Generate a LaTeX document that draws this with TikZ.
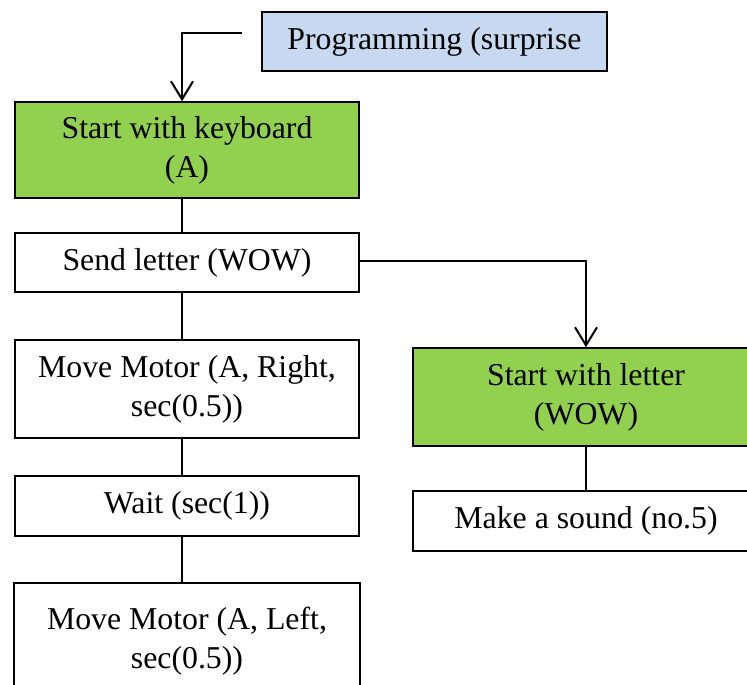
\documentclass[tikz,border=0pt]{standalone}
\usepackage{fontspec}
\setmainfont{Liberation Serif}
\usetikzlibrary{positioning,arrows.meta}
\definecolor{progblue}{HTML}{C6D9F1}
\definecolor{startgreen}{HTML}{92D050}
\tikzset{
  block/.style={draw=black,line width=0.8pt,align=center,inner sep=0pt,
    minimum width=172pt,font=\fontsize{15.9}{19.5}\selectfont},
  startblock/.style={block,fill=startgreen},
  link/.style={line width=1pt},
  arrowlink/.style={link,-{Straight Barb[length=9pt,width=11pt,line width=1pt]}}
}
\begin{document}
\begin{tikzpicture}[x=0.5pt,y=-0.5pt]
	\useasboundingbox (0,0) rectangle (747,684);
	
	% top block
	\node[block,fill=progblue,minimum width=172.5pt,minimum height=29.5pt] (prog) at (434.5,41.5) {Programming (surprise};
	\coordinate (progout) at (242,33);
	
	% left column
	\node[startblock,minimum height=48pt] (keyboard) at (187,150) {Start with keyboard\\(A)};
	\node[block,minimum height=29.5pt] (send) at (187,262.5) {Send letter (WOW)};
	\node[block,minimum height=49pt] (motorright) at (187,389) {Move Motor (A, Right,\\sec(0.5))};
	\node[block,minimum height=30pt] (wait) at (187,506) {Wait (sec(1))};
	\node[block,minimum width=173pt,minimum height=58.5pt] (motorleft) at (187,641.5) {Move Motor (A, Left,\\sec(0.5))};
	
	% right column
	\node[startblock,minimum width=173pt,minimum height=49pt] (letter) at (586,397) {Start with letter\\(WOW)};
	\node[block,minimum width=173pt,minimum height=30pt] (sound) at (586,521) {Make a sound (no.5)};
	
	% connectors
	\draw[arrowlink] (progout) -| ([xshift=-2.5pt]keyboard.north);
	\draw[link] ([xshift=-2.5pt]keyboard.south) -- ([xshift=-2.5pt]send.north);
	\draw[link] ([xshift=-2.5pt]send.south) -- ([xshift=-2.5pt]motorright.north);
	\draw[link] ([xshift=-2.5pt]motorright.south) -- ([xshift=-2.5pt]wait.north);
	\draw[link] ([xshift=-2.5pt]wait.south) -- ([xshift=-2.5pt]motorleft.north);
	\draw[arrowlink] ([yshift=1pt]send.east) -| (letter.north);
	\draw[link] (letter.south) -- (sound.north);
\end{tikzpicture}
\end{document}
